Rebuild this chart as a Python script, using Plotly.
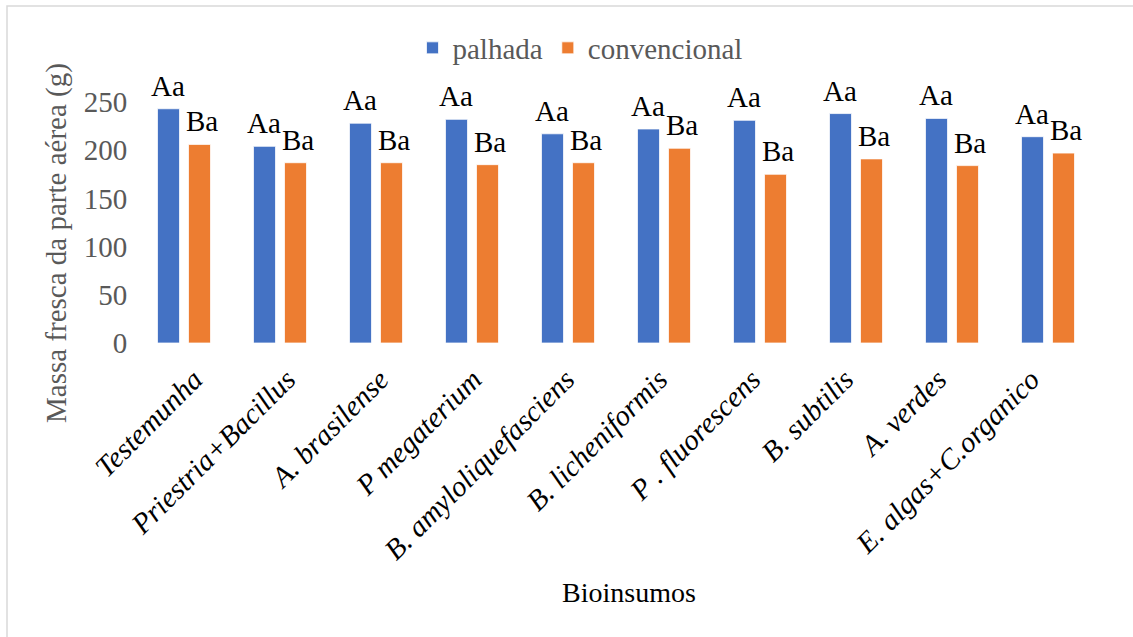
import plotly.graph_objects as go

categories = ["Testemunha", "Priestria+Bacillus", "A. brasilense", "P megaterium",
              "B. amyloliquefasciens", "B. licheniformis", "P . fluorescens",
              "B. subtilis", "A. verdes", "E. algas+C.organico"]
palhada = [243, 204, 228, 232, 217, 222, 231, 238, 233, 214]
convencional = [206, 187, 187, 185, 187, 202, 175, 191, 184, 197]
labels_palhada = ["Aa"] * 10
labels_convencional = ["Ba"] * 10
y_ticks = [0, 50, 100, 150, 200, 250]

FONT = "Liberation Serif, Times New Roman, serif"
GRAY = "#595959"

tick_text = [f"<i>{c}</i>" for c in categories]

W, H = 1133, 637
L, R, T, B = 136, 37, 102, 294
pw = W - L - R
ph = H - T - B
cat_px = pw / len(categories)
bargap = 0.354
slot_px = cat_px * (1 - bargap) / 2
offset_px = slot_px / 2

fig = go.Figure()
fig.add_trace(go.Bar(
    x=categories, y=palhada, name="palhada",
    marker=dict(color="#4472C4", line=dict(color="white", width=0.75)),
))
fig.add_trace(go.Bar(
    x=categories, y=convencional, name="convencional",
    marker=dict(color="#ED7D31", line=dict(color="white", width=0.75)),
))
# invisible carrier trace for the category label axis
fig.add_trace(go.Scatter(
    x=categories, y=palhada, xaxis="x2", yaxis="y", mode="markers",
    marker=dict(opacity=0), showlegend=False, hoverinfo="skip",
))


def px_x(p):
    return (p - L) / pw


def px_y(p):
    return (H - B - p) / ph


annotations = []
for cat, v, lab in zip(categories, palhada, labels_palhada):
    annotations.append(dict(x=cat, y=v, xref="x", yref="y", text=lab, showarrow=False,
                            xanchor="center", yanchor="bottom", xshift=-offset_px, yshift=5,
                            font=dict(family=FONT, size=29, color="black")))
for cat, v, lab in zip(categories, convencional, labels_convencional):
    annotations.append(dict(x=cat, y=v, xref="x", yref="y", text=lab, showarrow=False,
                            xanchor="center", yanchor="bottom", xshift=offset_px + 2, yshift=5,
                            font=dict(family=FONT, size=29, color="black")))
annotations += [
    dict(text="Bioinsumos", xref="paper", yref="paper", x=px_x(629), y=px_y(592),
         xanchor="center", yanchor="middle", showarrow=False,
         font=dict(family=FONT, size=28, color="black")),
    dict(text="Massa fresca da parte aérea (g)", xref="paper", yref="paper",
         x=px_x(57), y=px_y(243), xanchor="center", yanchor="middle", textangle=-90,
         showarrow=False, font=dict(family=FONT, size=29, color=GRAY)),
]

# label axis: Excel spaces the rotated category labels slightly tighter than the bars
lab_step = 93
lab_first = 194
lab_d0 = px_x(lab_first - lab_step / 2)
lab_d1 = px_x(lab_first - lab_step / 2 + lab_step * len(categories))

fig.update_layout(
    width=W, height=H,
    margin=dict(l=L, r=R, t=T, b=B),
    plot_bgcolor="rgba(0,0,0,0)", paper_bgcolor="white",
    barmode="group", bargap=bargap, bargroupgap=0.29,
    font=dict(family=FONT, color=GRAY, size=29),
    showlegend=True,
    legend=dict(orientation="h", x=px_x(580), y=px_y(48), xanchor="center", yanchor="middle",
                font=dict(family=FONT, size=29, color=GRAY), itemwidth=30,
                bgcolor="rgba(0,0,0,0)"),
    xaxis=dict(showticklabels=False, showgrid=False, showline=False, zeroline=False, ticks=""),
    xaxis2=dict(anchor="y", side="bottom", domain=[lab_d0, lab_d1], type="category",
                range=[-0.5, len(categories) - 0.5], tickmode="array",
                tickvals=categories, ticktext=tick_text,
                tickangle=-45, tickfont=dict(family=FONT, size=29, color="black"),
                showgrid=False, showline=False, zeroline=False,
                ticks="outside", ticklen=7, tickcolor="rgba(0,0,0,0)"),
    yaxis=dict(range=[0, 250], tickvals=y_ticks, showgrid=False, showline=False,
               zeroline=False, ticks="outside", ticklen=2, tickcolor="rgba(0,0,0,0)",
               tickfont=dict(family=FONT, size=29, color=GRAY)),
    annotations=annotations,
    shapes=[dict(type="rect", xref="paper", yref="paper", x0=px_x(7), y0=px_y(6),
                 x1=px_x(1145), y1=px_y(650), line=dict(color="#d9d9d9", width=1.5),
                 fillcolor="rgba(0,0,0,0)", layer="below")],
)

fig.write_html("out.html", config={"displayModeBar": False},
               post_script="document.body.style.margin='0px';document.body.style.overflow='hidden';")
